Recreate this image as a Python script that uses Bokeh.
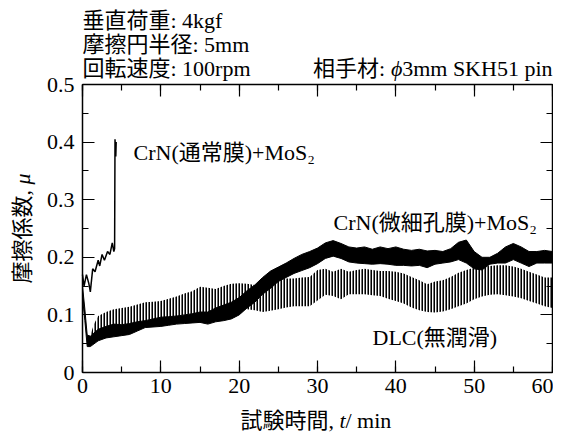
import math
from bokeh.plotting import figure
from bokeh.models import Label, LinearAxis, SingleIntervalTicker, Range1d, CustomJSTickFormatter
from bokeh.embed import file_html
from bokeh.resources import INLINE

# ---- data ----
t_normal = [0.0, 0.2, 0.5, 0.8, 1.0, 1.3, 1.6, 2.0, 2.2, 2.5, 2.8, 3.2, 3.5, 3.8, 4.0, 4.1, 4.15, 4.25, 4.3]
mu_normal = [0.17, 0.15, 0.17, 0.155, 0.14, 0.18, 0.175, 0.195, 0.185, 0.205, 0.195, 0.21, 0.205, 0.225, 0.21, 0.215, 0.405, 0.375, 0.40]

t_fine = [0, 0.3, 0.6, 1, 2, 3, 4, 5, 6, 7, 8, 9, 10, 11, 12, 13, 14, 15, 16, 17, 18, 19, 20,
          21, 22, 23, 24, 25, 26, 27, 28, 29, 30, 31, 32, 33, 34, 35, 36, 37, 38, 39, 40,
          41, 42, 43, 44, 45, 46, 47, 48, 49, 50, 51, 52, 53, 54, 55, 56, 57, 58, 59, 60]
fine_lo = [0.13, 0.09, 0.045, 0.045, 0.055, 0.06, 0.062, 0.064, 0.066, 0.072, 0.078, 0.079, 0.08,
           0.082, 0.084, 0.085, 0.086, 0.087, 0.084, 0.088, 0.09, 0.093, 0.1,
           0.112, 0.122, 0.136, 0.146, 0.158, 0.165, 0.172, 0.177, 0.182, 0.189,
           0.198, 0.202, 0.198, 0.192, 0.19, 0.189, 0.188, 0.189, 0.188, 0.186,
           0.186, 0.185, 0.186, 0.182, 0.188, 0.19, 0.192, 0.196, 0.19, 0.18,
           0.178, 0.188, 0.19, 0.19, 0.196, 0.19, 0.184, 0.19, 0.19, 0.19]
fine_hi = [0.15, 0.11, 0.065, 0.063, 0.075, 0.08, 0.084, 0.083, 0.085, 0.088, 0.09, 0.093, 0.096,
           0.097, 0.098, 0.1, 0.102, 0.105, 0.105, 0.112, 0.117, 0.122, 0.13,
           0.142, 0.152, 0.165, 0.176, 0.183, 0.19, 0.198, 0.205, 0.21, 0.216,
           0.225, 0.229, 0.224, 0.218, 0.216, 0.218, 0.214, 0.218, 0.215, 0.218,
           0.214, 0.212, 0.214, 0.211, 0.212, 0.21, 0.215, 0.226, 0.23, 0.21,
           0.2, 0.2, 0.207, 0.218, 0.224, 0.218, 0.21, 0.21, 0.212, 0.21]

t_dlc = [0.6, 1, 1.5, 2, 3, 4, 5, 6, 7, 8, 9, 10, 11, 12, 13, 14, 15, 16, 17, 18, 19, 20,
         21, 22, 23, 24, 25, 26, 27, 28, 29, 30, 31, 32, 33, 34, 35, 36, 37, 38, 39, 40,
         41, 42, 43, 44, 45, 46, 47, 48, 49, 50, 51, 52, 53, 54, 55, 56, 57, 58, 59, 60]
dlc_lo = [0.05, 0.052, 0.058, 0.068, 0.076, 0.08, 0.082, 0.084, 0.086, 0.089, 0.091, 0.093,
          0.095, 0.097, 0.1, 0.102, 0.098, 0.097, 0.098, 0.104, 0.11, 0.11,
          0.11, 0.108, 0.105, 0.107, 0.11, 0.113, 0.115, 0.115, 0.115, 0.125,
          0.135, 0.133, 0.127, 0.136, 0.136, 0.136, 0.134, 0.133, 0.128, 0.124,
          0.12, 0.113, 0.108, 0.105, 0.104, 0.106, 0.11, 0.115, 0.12, 0.127,
          0.132, 0.135, 0.136, 0.134, 0.132, 0.129, 0.124, 0.12, 0.115, 0.112]
dlc_hi = [0.058, 0.065, 0.085, 0.098, 0.105, 0.11, 0.112, 0.114, 0.118, 0.122, 0.123, 0.124,
          0.128, 0.132, 0.137, 0.141, 0.149, 0.147, 0.145, 0.15, 0.154, 0.155,
          0.154, 0.152, 0.15, 0.162, 0.166, 0.163, 0.163, 0.165, 0.166, 0.178,
          0.18, 0.175, 0.18, 0.175, 0.178, 0.18, 0.178, 0.176, 0.176, 0.175,
          0.172, 0.166, 0.16, 0.153, 0.158, 0.16, 0.166, 0.173, 0.178, 0.182,
          0.184, 0.185, 0.186, 0.186, 0.184, 0.18, 0.175, 0.17, 0.165, 0.165]

header_lines = ["垂直荷重: 4kgf", "摩擦円半径: 5mm", "回転速度: 100rpm"]
counter_parts = ["相手材: ", "ϕ", "3mm SKH51 pin"]
xlabel_parts = ["試験時間, ", "t", " / min"]
ylabel_parts = ["摩擦係数, ", "μ"]
series_labels = ["CrN(通常膜)+MoS₂", "CrN(微細孔膜)+MoS₂", "DLC(無潤滑)"]

X0, X1, Y0, Y1 = 0, 60, 0, 0.5

FONT = "'Liberation Serif', 'Noto Sans CJK JP'"
FS = "22px"
W, H = 553, 432
# pixel geometry of the axes box inside the canvas
FL, FR, FT, FB = 82, 552, 84, 372
sx = (FR - FL) / (X1 - X0)
sy = (FB - FT) / (Y1 - Y0)

def tx(px):
    return X0 + (px - FL) / sx

def ty(py):
    return Y0 + (FB - py) / sy

p = figure(width=W, height=H, output_backend="svg", toolbar_location=None,
           x_range=Range1d(tx(0), tx(W)), y_range=Range1d(ty(H), ty(0)),
           x_axis_location=None, y_axis_location=None, min_border=0,
           background_fill_color="white", border_fill_color="white", outline_line_color=None)
p.grid.visible = False

p.varea(x=t_fine, y1=fine_lo, y2=fine_hi, fill_color="black", fill_alpha=1.0)
p.line(t_fine, fine_lo, line_color="black", line_width=1)
p.line(t_fine, fine_hi, line_color="black", line_width=1)
p.varea(x=t_dlc, y1=dlc_lo, y2=dlc_hi, fill_alpha=0.0, hatch_pattern="vertical_line",
        hatch_color="black", hatch_scale=3, hatch_weight=2.1, hatch_alpha=1.0)
p.line(t_normal, mu_normal, line_color="black", line_width=1.5)

def make_axis(interval, bounds, loc, labels):
    ax = LinearAxis(ticker=SingleIntervalTicker(interval=interval, num_minor_ticks=2),
                    bounds=bounds, fixed_location=loc)
    ax.axis_line_color = "black"
    ax.axis_line_width = 1.5
    ax.major_tick_in = 12
    ax.major_tick_out = 0
    ax.minor_tick_in = 6
    ax.minor_tick_out = 0
    ax.major_tick_line_width = 1.2
    ax.minor_tick_line_width = 1.2
    ax.major_label_text_font = FONT
    ax.major_label_text_font_size = FS
    ax.major_label_text_color = "black"
    if not labels:
        ax.formatter = CustomJSTickFormatter(code="return ''")
        ax.major_label_standoff = 0
    return ax

bottom = make_axis(10, (X0, X1), Y0, True)
bottom.major_label_standoff = 6
left = make_axis(0.1, (Y0, Y1), X0, True)
left.major_label_standoff = 8
top = make_axis(10, (X0, X1), Y1, False)
right = make_axis(0.1, (Y0, Y1), X1, False)
p.add_layout(bottom, "below")
p.add_layout(left, "left")
p.add_layout(top, "above")
p.add_layout(right, "right")

def lab(px, py, text, align="left", style="normal", angle=0.0):
    p.add_layout(Label(x=tx(px), y=ty(py), text=text, text_font=FONT, text_font_size=FS,
                       text_font_style=style, text_align=align, text_baseline="middle",
                       text_color="black", angle=angle))

lab(133, 152, series_labels[0])
lab(333, 222, series_labels[1])
lab(372, 337, series_labels[2])

lab(82, 20, header_lines[0])
lab(82, 44, header_lines[1])
lab(82, 68, header_lines[2])
lab(552, 68, counter_parts[2], align="right")
lab(402, 68, counter_parts[1], align="right", style="italic")
lab(390, 68, counter_parts[0], align="right")

lab(339, 420, xlabel_parts[0], align="right")
lab(342, 420, xlabel_parts[1], align="center", style="italic")
lab(345, 420, xlabel_parts[2], align="left")

lab(22, 283, ylabel_parts[0], align="left", angle=math.pi / 2)
lab(22, 184, ylabel_parts[1], align="left", style="italic", angle=math.pi / 2)

open("out.html", "w").write(file_html(p, INLINE))
